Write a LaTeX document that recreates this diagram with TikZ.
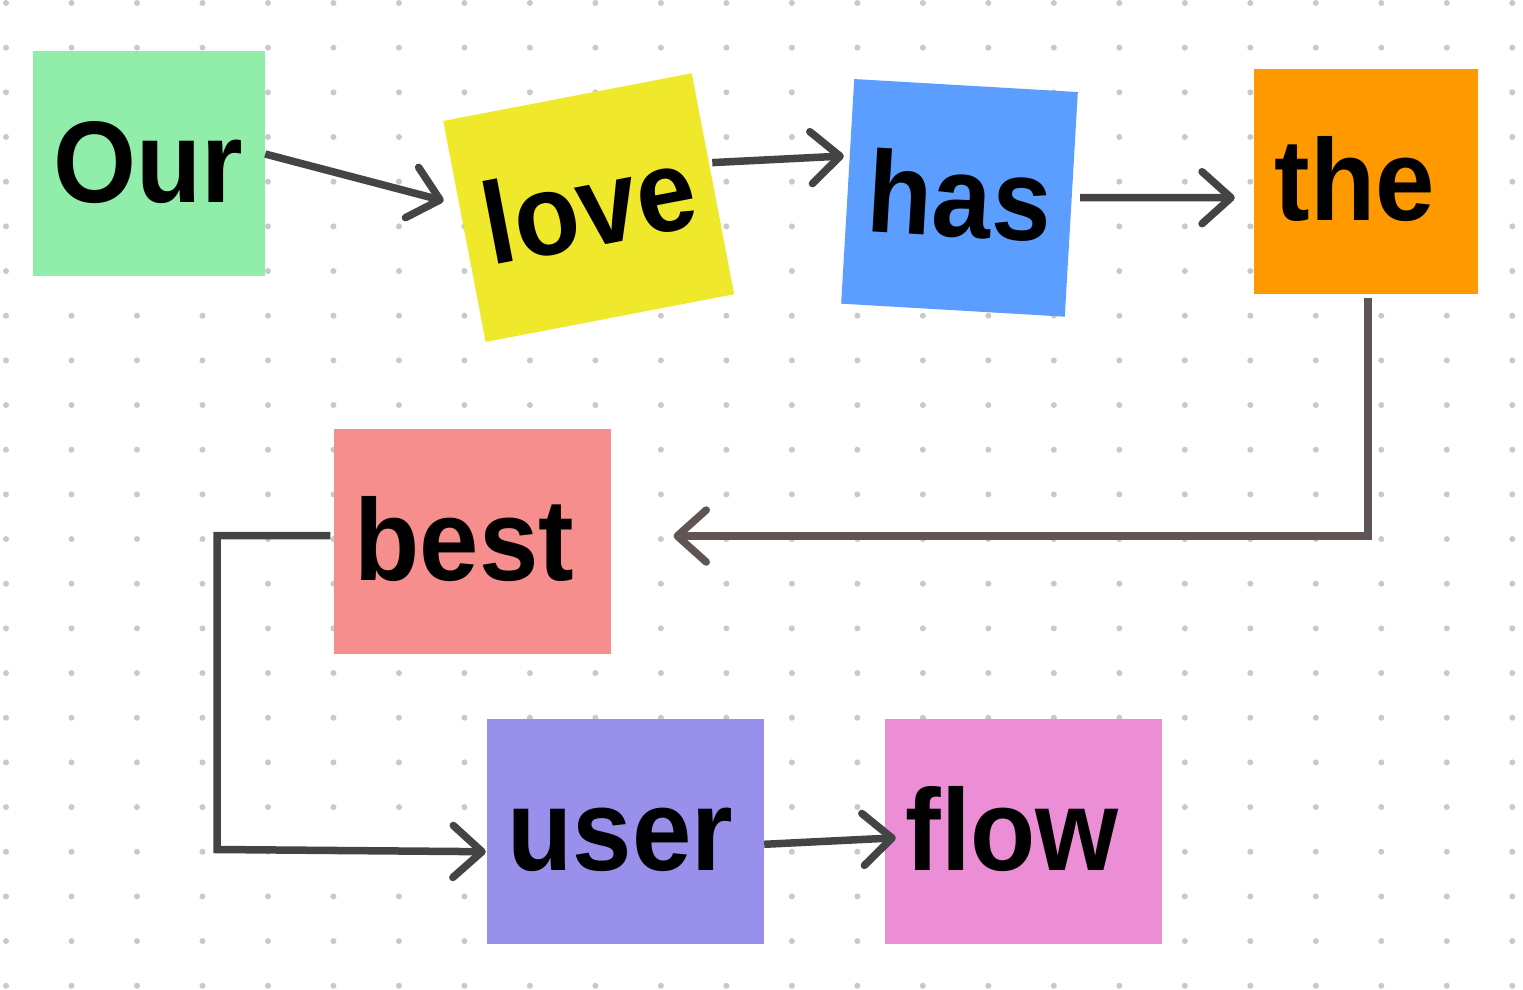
\documentclass[tikz,border=0pt]{standalone}
\usepackage{fontspec}
\newfontfamily\wordfont[FakeStretch=0.92]{Liberation Sans Bold}
\usetikzlibrary{arrows.meta,calc}
\definecolor{dotc}{HTML}{C9C9C9}
\definecolor{arrowc}{HTML}{444444}
\definecolor{brownc}{HTML}{615454}
\definecolor{cOur}{HTML}{90EDAA}
\definecolor{cLove}{HTML}{F0E82A}
\definecolor{cHas}{HTML}{5B9EFF}
\definecolor{cThe}{HTML}{FE9A00}
\definecolor{cBest}{HTML}{F68E8D}
\definecolor{cUser}{HTML}{9890EB}
\definecolor{cFlow}{HTML}{EC8ED6}
\begin{document}
\begin{tikzpicture}[x=1pt,y=-1pt,
  card/.style={rectangle, inner xsep=20.5pt, inner ysep=0pt, minimum height=225pt,
    text height=78pt, text depth=0pt, align=left,
    font=\wordfont\fontsize{116}{116}\selectfont},
  conn/.style={line width=7.5pt, draw=arrowc,
    -{Straight Barb[length=29pt,width=52pt,round,line width=7.5pt]}},
]
\fill[white] (0,0) rectangle (1523,989);
\useasboundingbox (0,0) rectangle (1523,989);
\foreach \i in {0,...,23}{\foreach \j in {0,...,22}{
  \fill[dotc] ({6+65.49*\i},{3+44.67*\j}) circle[radius=3];}}

\node[card, fill=cOur, text width=191pt] (our) at (149,163.5) {Our};
\node[card, fill=cLove, text width=212pt, rotate=10.87] (love) at (588.7,207.6) {love};
\node[card, fill=cHas, text width=183pt, rotate=-3.33] (has) at (959.5,197.85) {has};
\node[card, fill=cThe, text width=183pt] (the) at (1366,181.5) {the};
\node[card, fill=cBest, text width=236pt] (best) at (472.5,541.5) {best};
\node[card, fill=cUser, text width=236pt] (user) at (625.5,831.5) {user};
\node[card, fill=cFlow, text width=236pt] (flow) at (1023.5,831.5) {flow};

\coordinate (bcorner) at (217,849.5);

\draw[conn] ($(our.east)+(0,-9.5)$) -- ($(love.north west)+(0.7,80)$);
\draw[conn] ($(love.east)+(-0.85,-21.1)$) -- ($(has.west)+(-3.65,-35.35)$);
\draw[conn] ($(has.east)+(8.65,-6.65)$) -- ($(the.west)+(-19,16.2)$);
\draw[conn, draw=brownc] ($(the.south)+(2,4)$) |- ($(best.east)+(62.3,-5.5)$);
\draw[conn] ($(best.west)+(-3.5,-6)$) -| (bcorner) -- ($(user.west)+(-1,20.2)$);
\draw[conn] ($(user.east)+(0,12.8)$) -- ($(flow.west)+(11,6.3)$);
\end{tikzpicture}
\end{document}
